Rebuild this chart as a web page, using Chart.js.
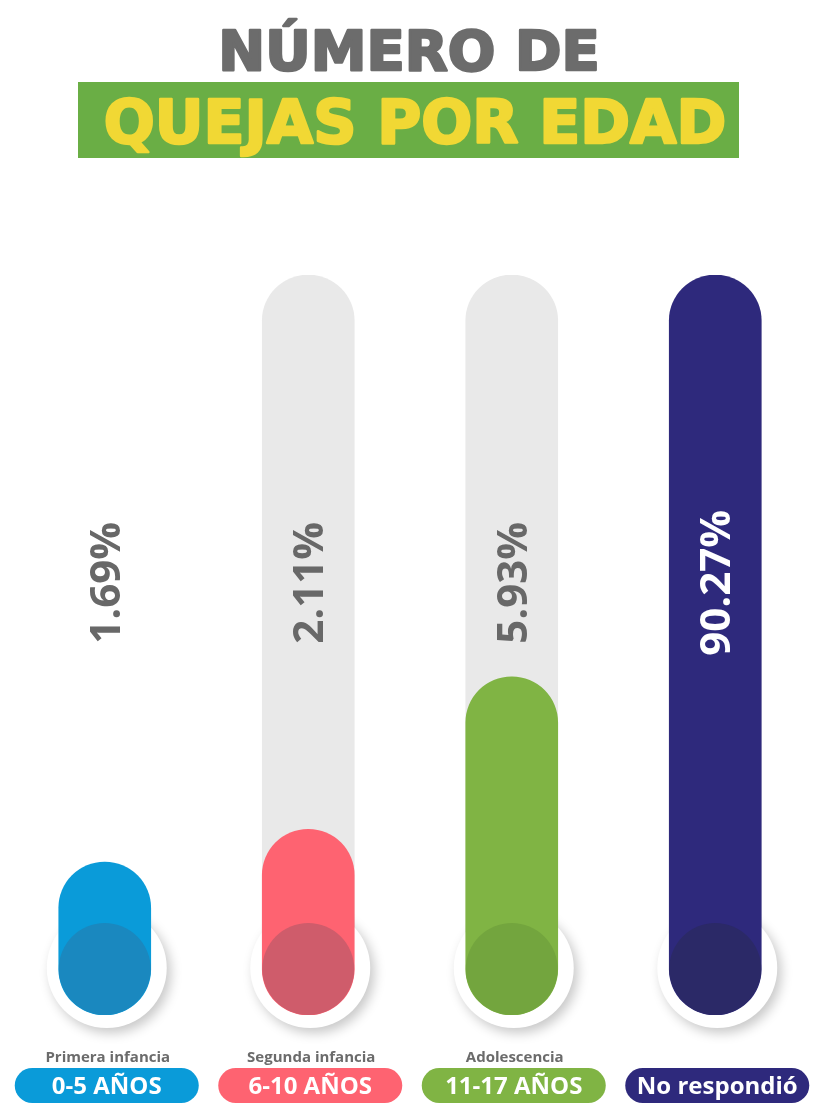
<!DOCTYPE html>
<html><head><meta charset="utf-8">
<script src="https://cdn.jsdelivr.net/npm/chart.js@4"></script>
<style>html,body{margin:0;padding:0;background:#fff;overflow:hidden}canvas{display:block}</style>
</head><body>
<canvas id="c" width="817" height="1105"></canvas>
<script>
const categories = ["0-5 AÑOS", "6-10 AÑOS", "11-17 AÑOS", "No respondió"];
const stageLabels = ["Primera infancia", "Segunda infancia", "Adolescencia", ""];
const percentages = [1.69, 2.11, 5.93, 90.27];
const showTrack = [false, true, true, true];
const barColors = ["#0a9bd9", "#fe6371", "#80b444", "#2e297c"];
const baseColors = ["#1a88bf", "#cf5c6b", "#73a53e", "#2b2967"];
const valueTextColors = ["#686868", "#686868", "#686868", "#ffffff"];
const titleLine1 = "NÚMERO DE";
const titleLine2 = "QUEJAS POR EDAD";

const maxValue = Math.max(...percentages);
const trackValues = percentages.map((v, i) => showTrack[i] ? maxValue : null);

const deco = {
  id: 'deco',
  beforeDraw(chart) {
    const ctx = chart.ctx;
    ctx.save();
    ctx.fillStyle = '#fff';
    ctx.fillRect(0, 0, chart.width, chart.height);
    ctx.textAlign = 'center';
    ctx.textBaseline = 'alphabetic';
    ctx.lineJoin = 'round';
    ctx.font = 'bold 56px "DejaVu Sans"';
    ctx.fillStyle = '#6c6c6c'; ctx.strokeStyle = '#6c6c6c'; ctx.lineWidth = 2.5;
    ctx.fillText(titleLine1, 409, 70); ctx.strokeText(titleLine1, 409, 70);
    ctx.fillStyle = '#6aae45';
    ctx.fillRect(78, 82, 661, 76);
    ctx.font = 'bold 60px "DejaVu Sans"';
    ctx.fillStyle = '#f1d834'; ctx.strokeStyle = '#f1d834';
    ctx.fillText(titleLine2, 415, 143); ctx.strokeText(titleLine2, 415, 143);
    ctx.restore();
  },
  beforeDatasetDraw(chart, args) {
    if (args.index !== 1) return;
    const ctx = chart.ctx;
    chart.getDatasetMeta(1).data.forEach(bar => {
      const r = bar.width / 2;
      ctx.save();
      ctx.shadowColor = 'rgba(0,0,0,0.22)';
      ctx.shadowBlur = 12; ctx.shadowOffsetX = 4; ctx.shadowOffsetY = 5;
      ctx.fillStyle = '#fff';
      ctx.beginPath();
      ctx.arc(bar.x + 2, bar.base - r - 1, r + 14, 0, Math.PI * 2);
      ctx.fill();
      ctx.restore();
    });
  },
  afterDatasetDraw(chart, args) {
    if (args.index !== 1) return;
    const ctx = chart.ctx;
    chart.getDatasetMeta(1).data.forEach((bar, i) => {
      const r = bar.width / 2;
      ctx.save();
      ctx.fillStyle = baseColors[i];
      ctx.beginPath();
      ctx.arc(bar.x, bar.base - r, r, 0, Math.PI * 2);
      ctx.fill();
      ctx.restore();
    });
  },
  afterDatasetsDraw(chart) {
    const ctx = chart.ctx;
    const area = chart.chartArea;
    const meta = chart.getDatasetMeta(1);
    meta.data.forEach((bar, i) => {
      const fs = 42, cap = fs * 0.714;
      const cy = area.top + 0.416 * (area.bottom - area.top);
      ctx.save();
      ctx.translate(bar.x + cap / 2, cy);
      ctx.rotate(-Math.PI / 2);
      ctx.font = 'bold ' + fs + 'px "Open Sans"';
      ctx.fillStyle = valueTextColors[i];
      ctx.textAlign = 'center';
      ctx.textBaseline = 'alphabetic';
      ctx.fillText(percentages[i].toFixed(2) + '%', 0, 0);
      ctx.restore();

      ctx.save();
      ctx.font = 'bold 15px "Open Sans"';
      ctx.fillStyle = '#6b6b6b';
      ctx.textAlign = 'center';
      ctx.textBaseline = 'alphabetic';
      ctx.fillText(stageLabels[i], bar.x + 3, area.bottom + 47);
      ctx.restore();

      const pw = 184, ph = 35, py = area.bottom + 53;
      const px = bar.x + 2 - pw / 2;
      ctx.save();
      ctx.fillStyle = barColors[i];
      ctx.beginPath();
      ctx.roundRect(px, py, pw, ph, ph / 2);
      ctx.fill();
      ctx.font = 'bold 24px "Open Sans"';
      ctx.fillStyle = '#fff';
      ctx.textAlign = 'center';
      ctx.textBaseline = 'alphabetic';
      ctx.fillText(categories[i], bar.x + 2, py + ph / 2 + 8.5);
      ctx.restore();
    });
  }
};

new Chart(document.getElementById('c'), {
  type: 'bar',
  data: {
    labels: categories,
    datasets: [
      {
        label: 'Total',
        data: trackValues,
        backgroundColor: '#e9e9e9',
        borderRadius: 100,
        borderSkipped: false,
        barThickness: 92,
        order: 2
      },
      {
        label: 'Porcentaje de quejas',
        data: percentages,
        backgroundColor: barColors,
        borderRadius: 100,
        borderSkipped: false,
        barThickness: 92,
        order: 1
      }
    ]
  },
  options: {
    responsive: false,
    animation: false,
    layout: { padding: { top: 275, bottom: 90, left: 3, right: 0 } },
    datasets: { bar: { grouped: false } },
    scales: {
      x: { display: false },
      y: { type: 'logarithmic', display: false, min: 0.6, max: maxValue }
    },
    plugins: { legend: { display: false }, tooltip: { enabled: false } }
  },
  plugins: [deco]
});
</script>
</body></html>
